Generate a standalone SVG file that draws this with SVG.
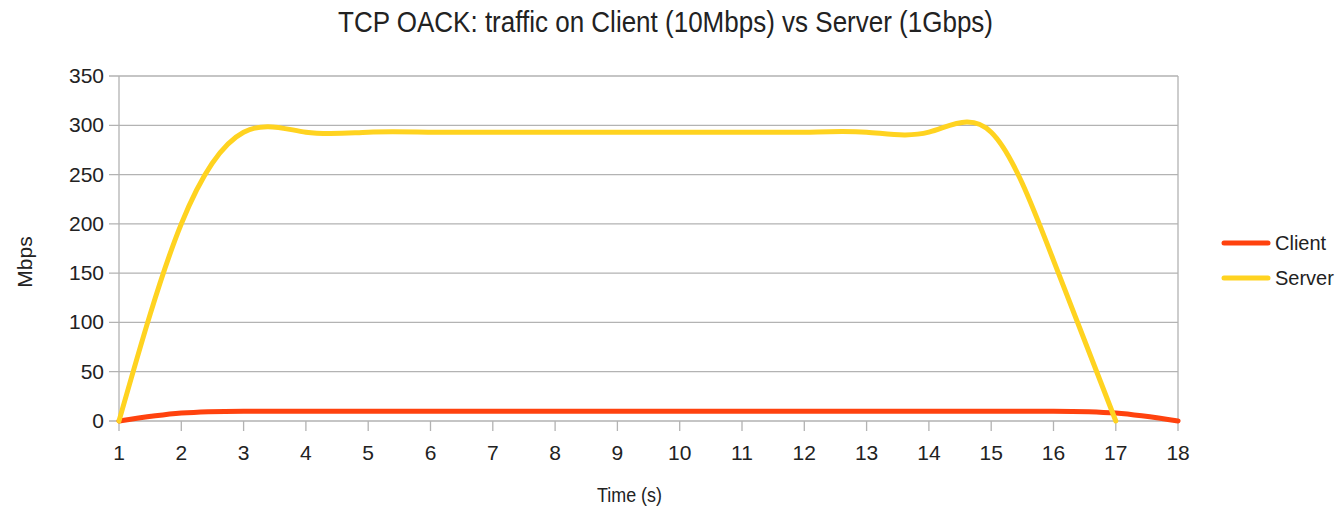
<svg xmlns="http://www.w3.org/2000/svg" width="1340" height="509" viewBox="0 0 1340 509">
<style>
text{font-family:"Liberation Sans",Arial,sans-serif;fill:#222}
.grid{stroke:#b3b3b3;stroke-width:1.3;fill:none}
.yl{font-size:21px;text-anchor:end}
.xl{font-size:21px;text-anchor:middle}
.series{fill:none;stroke-width:5;stroke-linecap:round;stroke-linejoin:round}
.client{stroke:#ff420e}
.server{stroke:#ffd320}
</style>
<rect width="1340" height="509" fill="#fff"/>
<g id="title"><text x="338" y="32" font-size="29" textLength="655" lengthAdjust="spacingAndGlyphs">TCP OACK: traffic on Client (10Mbps) vs Server (1Gbps)</text></g>
<g id="grid">
<path class="grid" d="M109 421H1178M109 371.71H1178M109 322.43H1178M109 273.14H1178M109 223.86H1178M109 174.57H1178M109 125.29H1178M109 76H1178"/>
<path class="grid" d="M119 76V431M1178 76V431M181.3 421V431M243.6 421V431M305.9 421V431M368.2 421V431M430.5 421V431M492.8 421V431M555.1 421V431M617.4 421V431M679.7 421V431M742 421V431M804.3 421V431M866.6 421V431M928.9 421V431M991.2 421V431M1053.5 421V431M1115.8 421V431"/>
</g>
<g id="y-axis">
<text class="yl" x="104" y="428">0</text>
<text class="yl" x="104" y="378.7">50</text>
<text class="yl" x="104" y="329.4">100</text>
<text class="yl" x="104" y="280.1">150</text>
<text class="yl" x="104" y="230.9">200</text>
<text class="yl" x="104" y="181.6">250</text>
<text class="yl" x="104" y="132.3">300</text>
<text class="yl" x="104" y="83">350</text>
<text x="0" y="0" font-size="21" text-anchor="middle" transform="translate(32,262) rotate(-90)">Mbps</text>
</g>
<g id="x-axis">
<text class="xl" x="119" y="459.5">1</text>
<text class="xl" x="181.3" y="459.5">2</text>
<text class="xl" x="243.6" y="459.5">3</text>
<text class="xl" x="305.9" y="459.5">4</text>
<text class="xl" x="368.2" y="459.5">5</text>
<text class="xl" x="430.5" y="459.5">6</text>
<text class="xl" x="492.8" y="459.5">7</text>
<text class="xl" x="555.1" y="459.5">8</text>
<text class="xl" x="617.4" y="459.5">9</text>
<text class="xl" x="679.7" y="459.5">10</text>
<text class="xl" x="742" y="459.5">11</text>
<text class="xl" x="804.3" y="459.5">12</text>
<text class="xl" x="866.6" y="459.5">13</text>
<text class="xl" x="928.9" y="459.5">14</text>
<text class="xl" x="991.2" y="459.5">15</text>
<text class="xl" x="1053.5" y="459.5">16</text>
<text class="xl" x="1115.8" y="459.5">17</text>
<text class="xl" x="1178.1" y="459.5">18</text>
<text x="597" y="502" font-size="21" textLength="65" lengthAdjust="spacingAndGlyphs">Time (s)</text>
</g>
<g id="connectors">
<path id="client-line" class="series client" d="M119,421 C139.77,417.89 160.53,414.78 181.3,413.11 C202.07,411.44 222.83,411.22 243.6,411.14 L1053.5,411.14 C1074.27,411.22 1095.03,411.44 1115.8,413.11 C1136.57,414.78 1157.33,417.89 1178.1,421"/>
<path id="server-line" class="series server" d="M119,421 C139.77,348.06 160.53,275.12 181.3,223.86 C202.07,172.6 222.83,143.02 243.6,132.19 C264.37,121.36 285.13,129.29 305.9,132.19 C326.67,135.09 347.43,132.97 368.2,132.19 C388.97,131.41 409.73,131.98 430.5,132.19 C451.27,132.4 472.03,132.25 492.8,132.19 L742,132.19 C762.77,132.29 783.53,132.57 804.3,132.19 C825.07,131.81 845.83,130.77 866.6,132.19 C887.37,133.61 908.13,137.52 928.9,132.19 C949.67,126.86 970.43,112.29 991.2,132.19 C1011.97,152.09 1032.73,206.45 1053.5,260.33 C1074.27,314.21 1095.03,367.61 1115.8,421"/>
</g>
<g id="legend">
<g id="legend-client"><line x1="1224" y1="243" x2="1268" y2="243" class="series client" stroke-linecap="butt"/><text x="1275" y="250" font-size="20">Client</text></g>
<g id="legend-server"><line x1="1224" y1="278" x2="1268" y2="278" class="series server" stroke-linecap="butt"/><text x="1275" y="285" font-size="20">Server</text></g>
</g>
</svg>
